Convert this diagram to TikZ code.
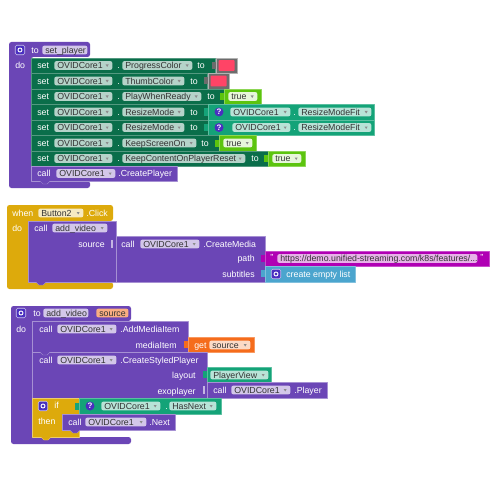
\documentclass[tikz,border=0pt]{standalone}
\usepackage{fontspec}
\setmainfont{Liberation Sans}
\usepackage{xcolor}
\usetikzlibrary{positioning,calc}

\definecolor{procpurple}{HTML}{6B46B6}
\definecolor{setgreen}{HTML}{0A6E4A}
\definecolor{getteal}{HTML}{14A378}
\definecolor{lime}{HTML}{5CC40E}
\definecolor{ctrlgold}{HTML}{DDAA0C}
\definecolor{strmagenta}{HTML}{B000B4}
\definecolor{listblue}{HTML}{4BA5CE}
\definecolor{varorange}{HTML}{F56C1C}
\definecolor{swatchred}{HTML}{FF4466}
\definecolor{gearblue}{HTML}{4A2FC0}

\tikzset{
  blockfont/.style={font=\fontsize{5}{6}\selectfont, text height=1.27mm, text depth=0mm},
  lbl/.style={blockfont, text=white, inner sep=0pt, anchor=west},
  lblr/.style={lbl, anchor=east},
  field/.style={inner sep=0pt, minimum height=1.75mm, rounded corners=0.4mm, anchor=west},
  fieldtext/.style={blockfont, text=black!80, inner sep=0pt, anchor=west},
  block/.style={line width=0.2pt, line join=round},
  gearbox/.style={fill=gearblue, draw=white!70!gearblue, line width=0.3pt,
    rounded corners=0.3mm, inner sep=0pt, minimum size=1.9mm,
    path picture={\draw[white, line width=0.5pt] (path picture bounding box.center) circle (0.4mm);}},
  quest/.style={circle, fill=gearblue, text=white, inner sep=0pt, minimum size=1.8mm,
    font=\fontsize{4.5}{5}\selectfont\bfseries},
}

% field with text in it: name, x0, x1, y, fill, text
\newcommand{\fld}[6]{
  \node[field, fill=#5, minimum width={((#3)-(#2))*0.2mm}] (#1) at (#2,#4) {};
  \node[fieldtext] (#1t) at (#2+3,#4) {#6};
}
% same with the dropdown mark
\newcommand{\ddfld}[6]{
  \fld{#1}{#2}{#3}{#4}{#5}{#6}
  \fill[black!45] ($(#1.east)+(-7,-1)$) -- ++(3,0) -- ++(-1.5,2.5) -- cycle;
}
% tab under a stacked block: x, y, fill
\newcommand{\bump}[3]{
  \fill[#3, draw=white!40!#3, block] (#1,#2) -- (#1+3,#2+3) -- (#1+7,#2+3) -- (#1+10,#2);
}
% one row of the property setter: name, y, row end, property end, property, x of to
\newcommand{\setrow}[6]{
  \fill[setgreen, draw=setgreen!70!white, block] (31,#2-7.75) rectangle (#3,#2+7.75);
  \fill[setgreen] (#3-4,#2-3.5) rectangle (#3,#2+3.5);
  \fill[white!75!setgreen] (#3-3,#2-3) rectangle (#3-1,#2+3);
  \node[lbl] (#1s) at (37,#2) {set};
  \ddfld{#1c}{54}{112}{#2}{white!70!setgreen}{OVIDCore1}
  \node[lbl] (#1d) at (117,#2) {.};
  \ddfld{#1p}{122}{#4}{#2}{white!70!setgreen}{#5}
  \node[lbl] (#1t) at (#6,#2) {to};
}
% true block: name, x0, x1, y
\newcommand{\trueblock}[4]{
  \fill[lime, draw=lime!70!white, block] (#2,#4-7.75) rectangle (#3,#4+7.75);
  \fill[lime] (#2-4,#4-3.5) rectangle (#2,#4+3.5);
  \ddfld{#1}{#2+4}{#3-4}{#4}{white!85!lime}{true}
}
% colour block: name, x0, x1, y
\newcommand{\swatch}[4]{
  \fill[gray!85!black, draw=gray!60, block] (#2,#4-7.75) rectangle (#3,#4+7.75);
  \fill[gray!85!black] (#2-4,#4-3.5) rectangle (#2,#4+3.5);
  \node[inner sep=0pt, fill=swatchred, rounded corners=0.2mm, minimum width={(#3-#2-5)*0.2mm},
    minimum height=2.2mm] (#1) at ({(#2+#3)/2},#4) {};
}
% enum getter with the question mark: name, x0, x1, y, field x0, field x1, dot x, field x0, field x1, text
\newcommand{\enumblock}[9]{
  \fill[getteal, draw=getteal!70!white, block] (#2,#4-7.75) rectangle (#3,#4+7.75);
  \fill[getteal] (#2-4,#4-3.5) rectangle (#2,#4+3.5);
  \node[quest] (#1q) at (#2+11,#4) {?};
  \ddfld{#1c}{#5}{#6}{#4}{white!70!getteal}{OVIDCore1}
  \node[lbl] (#1d) at (#7,#4) {.};
  \ddfld{#1p}{#8}{#9}{#4}{white!70!getteal}
}

\begin{document}
\begin{tikzpicture}[x=0.02cm,y=-0.02cm]
  \useasboundingbox (0,0) rectangle (500,500);
  \fill[white] (0,0) rectangle (500,500);

  % first procedure
  \fill[procpurple, rounded corners=0.5mm]
    (9,42) -- (90,42) -- (90,57) -- (31,57) -- (31,181) -- (90,181) -- (90,188) -- (9,188) -- cycle;
  \node[gearbox] (gearone) at (20,50) {};
  \node[lbl] (toone) at (31,50) {to};
  \fld{nameone}{42}{87}{50}{white!70!procpurple}{set\_player}
  \node[lbl] (doone) at (15,65) {do};

  \setrow{ra}{65.5}{215}{192}{ProgressColor}{197}
  \swatch{swa}{216}{237}{65.5}
  \setrow{rb}{81}{207}{184}{ThumbColor}{190}
  \swatch{swb}{208}{229}{81}
  \setrow{rc}{96.5}{224}{201}{PlayWhenReady}{207}
  \trueblock{tra}{224}{261}{96.5}
  \setrow{rd}{112}{208}{184}{ResizeMode}{190}
  \enumblock{ena}{208}{374}{112}{230}{290}{293}{298}{371}{ResizeModeFit}
  \setrow{re}{127.5}{208}{184}{ResizeMode}{190}
  \enumblock{enb}{208}{374}{127.5}{232}{290}{293}{298}{371}{ResizeModeFit}
  \setrow{rf}{143}{219}{196}{KeepScreenOn}{201}
  \trueblock{trb}{219}{256}{143}
  \setrow{rg}{158.5}{268}{245}{KeepContentOnPlayerReset}{251}
  \trueblock{trc}{268}{305}{158.5}

  \fill[procpurple, draw=white!40!procpurple, block] (31,166.25) rectangle (177,181);
  \node[lbl] (callone) at (37,173.5) {call};
  \ddfld{coreone}{56}{115}{173.5}{white!70!procpurple}{OVIDCore1}
  \node[lbl] (createplayer) at (118,173.5) {.CreatePlayer};
  \bump{40}{181}{procpurple}

  % button handler
  \fill[ctrlgold, rounded corners=0.5mm]
    (7,205) -- (113,205) -- (113,221) -- (28,221) -- (28,282) -- (113,282) -- (113,289) -- (7,289) -- cycle;
  \node[lbl] (whenlbl) at (12,213) {when};
  \ddfld{buttonfld}{38}{83}{213}{white!75!ctrlgold}{Button2}
  \node[lbl] (clicklbl) at (86,213) {.Click};
  \node[lbl] (dotwo) at (12,228) {do};

  \fill[procpurple, draw=white!40!procpurple, block] (28,221) rectangle (116,282);
  \fill[procpurple, draw=white!40!procpurple, block] (116,236) rectangle (265,282);
  \node[lbl] (calltwo) at (34,228) {call};
  \ddfld{addfld}{52}{107}{228}{white!70!procpurple}{add\_video}
  \node[lblr] (sourcelbl) at (105,244) {source};
  \fill[white!60!procpurple] (111,240) rectangle (113,248);
  \node[lbl] (callthree) at (121,244) {call};
  \ddfld{coretwo}{140}{199}{244}{white!70!procpurple}{OVIDCore1}
  \node[lbl] (createmedia) at (203,244) {.CreateMedia};
  \node[lblr] (pathlbl) at (255,258.5) {path};
  \node[lblr] (sublbl) at (255,274) {subtitles};
  \bump{36}{282}{procpurple}

  \fill[strmagenta, draw=strmagenta!70!white, block] (265,251) rectangle (489,266);
  \fill[strmagenta] (261,255) rectangle (265,262);
  \node[lbl] (qopen) at (270,257) {"};
  \fld{urlfld}{277}{477}{258.5}{white!70!strmagenta}{https://demo.unified-streaming.com/k8s/features/...}
  \node[lbl] (qclose) at (480,257) {"};
  \fill[listblue, draw=listblue!70!white, block] (265,266) rectangle (355,282);
  \fill[listblue] (261,270) rectangle (265,277);
  \node[gearbox] (gearlist) at (276,274) {};
  \node[lbl] (emptylist) at (286,274) {create empty list};

  % second procedure
  \fill[procpurple, rounded corners=0.5mm]
    (11,306) -- (131,306) -- (131,321) -- (32,321) -- (32,437) -- (131,437) -- (131,444) -- (11,444) -- cycle;
  \node[gearbox] (geartwo) at (21,313) {};
  \node[lbl] (totwo) at (33,313) {to};
  \fld{nametwo}{43}{88}{313}{white!70!procpurple}{add\_video}
  \fld{argfld}{96}{128}{313}{varorange!55!white}{source}
  \node[lbl] (dothree) at (16,329) {do};

  \fill[procpurple, draw=white!40!procpurple, block] (32,321) rectangle (188,352);
  \node[lbl] (callfour) at (39,329) {call};
  \ddfld{corethree}{57}{116}{329}{white!70!procpurple}{OVIDCore1}
  \node[lbl] (additem) at (120,329) {.AddMediaItem};
  \node[lblr] (itemlbl) at (177,345) {mediaItem};
  \fill[varorange, draw=varorange!70!white, block] (188,337) rectangle (254,352);
  \fill[varorange] (184,341) rectangle (188,348);
  \node[lbl] (getlbl) at (194,345) {get};
  \ddfld{getfld}{209}{250}{345}{white!75!varorange}{source}

  \fill[procpurple, draw=white!40!procpurple, block] (32,352) rectangle (207,398);
  \node[lbl] (callfive) at (39,360) {call};
  \ddfld{corefour}{57}{116}{360}{white!70!procpurple}{OVIDCore1}
  \node[lbl] (styled) at (120,360) {.CreateStyledPlayer};
  \node[lblr] (layoutlbl) at (196,375) {layout};
  \node[lblr] (exolbl) at (196,391) {exoplayer};
  \fill[getteal, draw=getteal!70!white, block] (207,367) rectangle (271,382);
  \fill[getteal] (203,371) rectangle (207,378);
  \ddfld{viewfld}{210}{268}{375}{white!70!getteal}{PlayerView}
  \fill[procpurple, draw=white!40!procpurple, block] (207,382) rectangle (327,398);
  \fill[white!60!procpurple] (203,386) rectangle (205,394);
  \node[lbl] (callsix) at (213,390) {call};
  \ddfld{corefive}{231}{290}{390}{white!70!procpurple}{OVIDCore1}
  \node[lbl] (playerlbl) at (294,390) {.Player};
  \bump{40}{352}{procpurple}

  % if block
  \fill[ctrlgold, draw=white!40!ctrlgold, block]
    (32,398) -- (79,398) -- (79,414) -- (62,414) -- (62,430) -- (79,430) -- (79,437) -- (32,437) -- cycle;
  \node[gearbox] (gearif) at (43,406) {};
  \node[lbl] (iflbl) at (54,405) {if};
  \node[lbl] (thenlbl) at (38,421) {then};
  \enumblock{enc}{79}{221}{406}{101}{160}{165}{169}{216}{HasNext}
  \fill[procpurple, draw=white!40!procpurple, block] (62,414) rectangle (175,430);
  \node[lbl] (callseven) at (68,422) {call};
  \ddfld{coresix}{85}{146}{422}{white!70!procpurple}{OVIDCore1}
  \node[lbl] (nextlbl) at (149,422) {.Next};
  \bump{70}{430}{procpurple}
  \bump{41}{437}{ctrlgold}
\end{tikzpicture}
\end{document}
